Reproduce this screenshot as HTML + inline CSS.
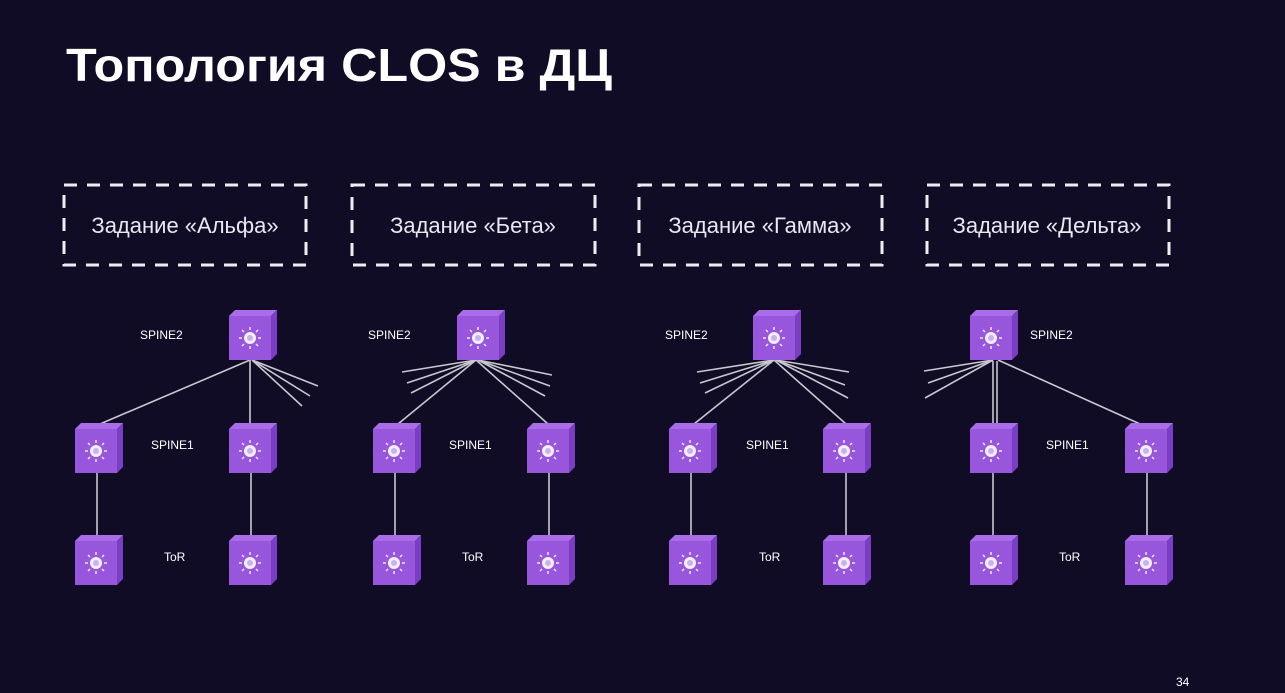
<!DOCTYPE html>
<html><head><meta charset="utf-8"><style>
html,body{margin:0;padding:0;background:#100c26;}
svg{display:block}
text{font-family:"Liberation Sans",sans-serif;fill:#fff}
</style></head><body>
<svg width="1285" height="693" viewBox="0 0 1285 693" xmlns="http://www.w3.org/2000/svg">
<rect width="1285" height="693" fill="#100c26"/>
<defs>
<g id="c">
<polygon points="0,6 6,0 48,0 42,6" fill="#a96de9"/>
<polygon points="42,6 48,0 48,44 42,50" fill="#7b3dc4"/>
<rect x="0" y="6" width="42" height="44" fill="#9856dd"/>
<g stroke="#f0e6ff" stroke-width="1.5">
<line x1="21" y1="17" x2="21" y2="20"/><line x1="21" y1="36" x2="21" y2="39"/>
<line x1="10" y1="28" x2="13" y2="28"/><line x1="29" y1="28" x2="32" y2="28"/>
<line x1="13" y1="20" x2="15" y2="22"/><line x1="27" y1="34" x2="29" y2="36"/>
<line x1="29" y1="20" x2="27" y2="22"/><line x1="13" y1="36" x2="15" y2="34"/>
</g>
<circle cx="21" cy="28" r="6" fill="#f4eeff"/>
<circle cx="21" cy="28" r="3" fill="#c9b0ee"/>
</g>
</defs>
<text x="66" y="81" font-size="46" font-weight="bold" textLength="546" lengthAdjust="spacingAndGlyphs">Топология CLOS в ДЦ</text>

<g fill="none" stroke="#eeeeee" stroke-width="3" stroke-dasharray="13 10">
<rect x="64" y="185" width="242" height="80"/>
<rect x="352" y="185" width="243" height="80"/>
<rect x="639" y="185" width="243" height="80"/>
<rect x="927" y="185" width="242" height="80"/>
</g>
<g font-size="22">
<text x="185" y="233" text-anchor="middle" style="fill:#e8e8ee">Задание «Альфа»</text>
<text x="473" y="233" text-anchor="middle" style="fill:#e8e8ee">Задание «Бета»</text>
<text x="760" y="233" text-anchor="middle" style="fill:#e8e8ee">Задание «Гамма»</text>
<text x="1047" y="233" text-anchor="middle" style="fill:#e8e8ee">Задание «Дельта»</text>
</g>

<g stroke="#c8c8d0" stroke-width="1.6" fill="none">
<line x1="250" y1="360" x2="100" y2="424"/><line x1="250" y1="360" x2="250" y2="424"/>
<line x1="252" y1="360" x2="318" y2="386"/><line x1="252" y1="360" x2="310" y2="396"/><line x1="252" y1="360" x2="302" y2="406"/>
<line x1="97" y1="472" x2="97" y2="536"/><line x1="251" y1="472" x2="251" y2="536"/>
<line x1="476" y1="360" x2="398" y2="424"/><line x1="476" y1="360" x2="548" y2="424"/>
<line x1="476" y1="360" x2="402" y2="372"/><line x1="476" y1="360" x2="407" y2="383"/><line x1="476" y1="360" x2="411" y2="393"/>
<line x1="478" y1="360" x2="552" y2="375"/><line x1="478" y1="360" x2="550" y2="386"/><line x1="478" y1="360" x2="545" y2="396"/>
<line x1="395" y1="472" x2="395" y2="536"/><line x1="549" y1="472" x2="549" y2="536"/>
<line x1="774" y1="360" x2="694" y2="424"/><line x1="774" y1="360" x2="846" y2="424"/>
<line x1="774" y1="360" x2="697" y2="372"/><line x1="774" y1="360" x2="700" y2="383"/><line x1="774" y1="360" x2="705" y2="393"/>
<line x1="776" y1="360" x2="849" y2="372"/><line x1="776" y1="360" x2="845" y2="385"/><line x1="776" y1="360" x2="848" y2="398"/>
<line x1="691" y1="472" x2="691" y2="536"/><line x1="846" y1="472" x2="846" y2="536"/>
<line x1="993" y1="361" x2="993" y2="424"/><line x1="997" y1="361" x2="997" y2="424"/>
<line x1="998" y1="360" x2="1140" y2="424"/>
<line x1="993" y1="360" x2="924" y2="371"/><line x1="993" y1="360" x2="928" y2="383"/><line x1="993" y1="360" x2="925" y2="398"/>
<line x1="993" y1="472" x2="993" y2="536"/><line x1="1147" y1="472" x2="1147" y2="536"/>
</g>

<use href="#c" x="229" y="310"/><use href="#c" x="75" y="423"/><use href="#c" x="229" y="423"/><use href="#c" x="75" y="535"/><use href="#c" x="229" y="535"/>
<use href="#c" x="457" y="310"/><use href="#c" x="373" y="423"/><use href="#c" x="527" y="423"/><use href="#c" x="373" y="535"/><use href="#c" x="527" y="535"/>
<use href="#c" x="753" y="310"/><use href="#c" x="669" y="423"/><use href="#c" x="823" y="423"/><use href="#c" x="669" y="535"/><use href="#c" x="823" y="535"/>
<use href="#c" x="970" y="310"/><use href="#c" x="970" y="423"/><use href="#c" x="1125" y="423"/><use href="#c" x="970" y="535"/><use href="#c" x="1125" y="535"/>

<g font-size="12">
<text x="140" y="339">SPINE2</text><text x="151" y="449">SPINE1</text><text x="164" y="561">ToR</text>
<text x="368" y="339">SPINE2</text><text x="449" y="449">SPINE1</text><text x="462" y="561">ToR</text>
<text x="665" y="339">SPINE2</text><text x="746" y="449">SPINE1</text><text x="759" y="561">ToR</text>
<text x="1030" y="339">SPINE2</text><text x="1046" y="449">SPINE1</text><text x="1059" y="561">ToR</text>
</g>
<text x="1176" y="686" font-size="12">34</text>
</svg>
</body></html>
